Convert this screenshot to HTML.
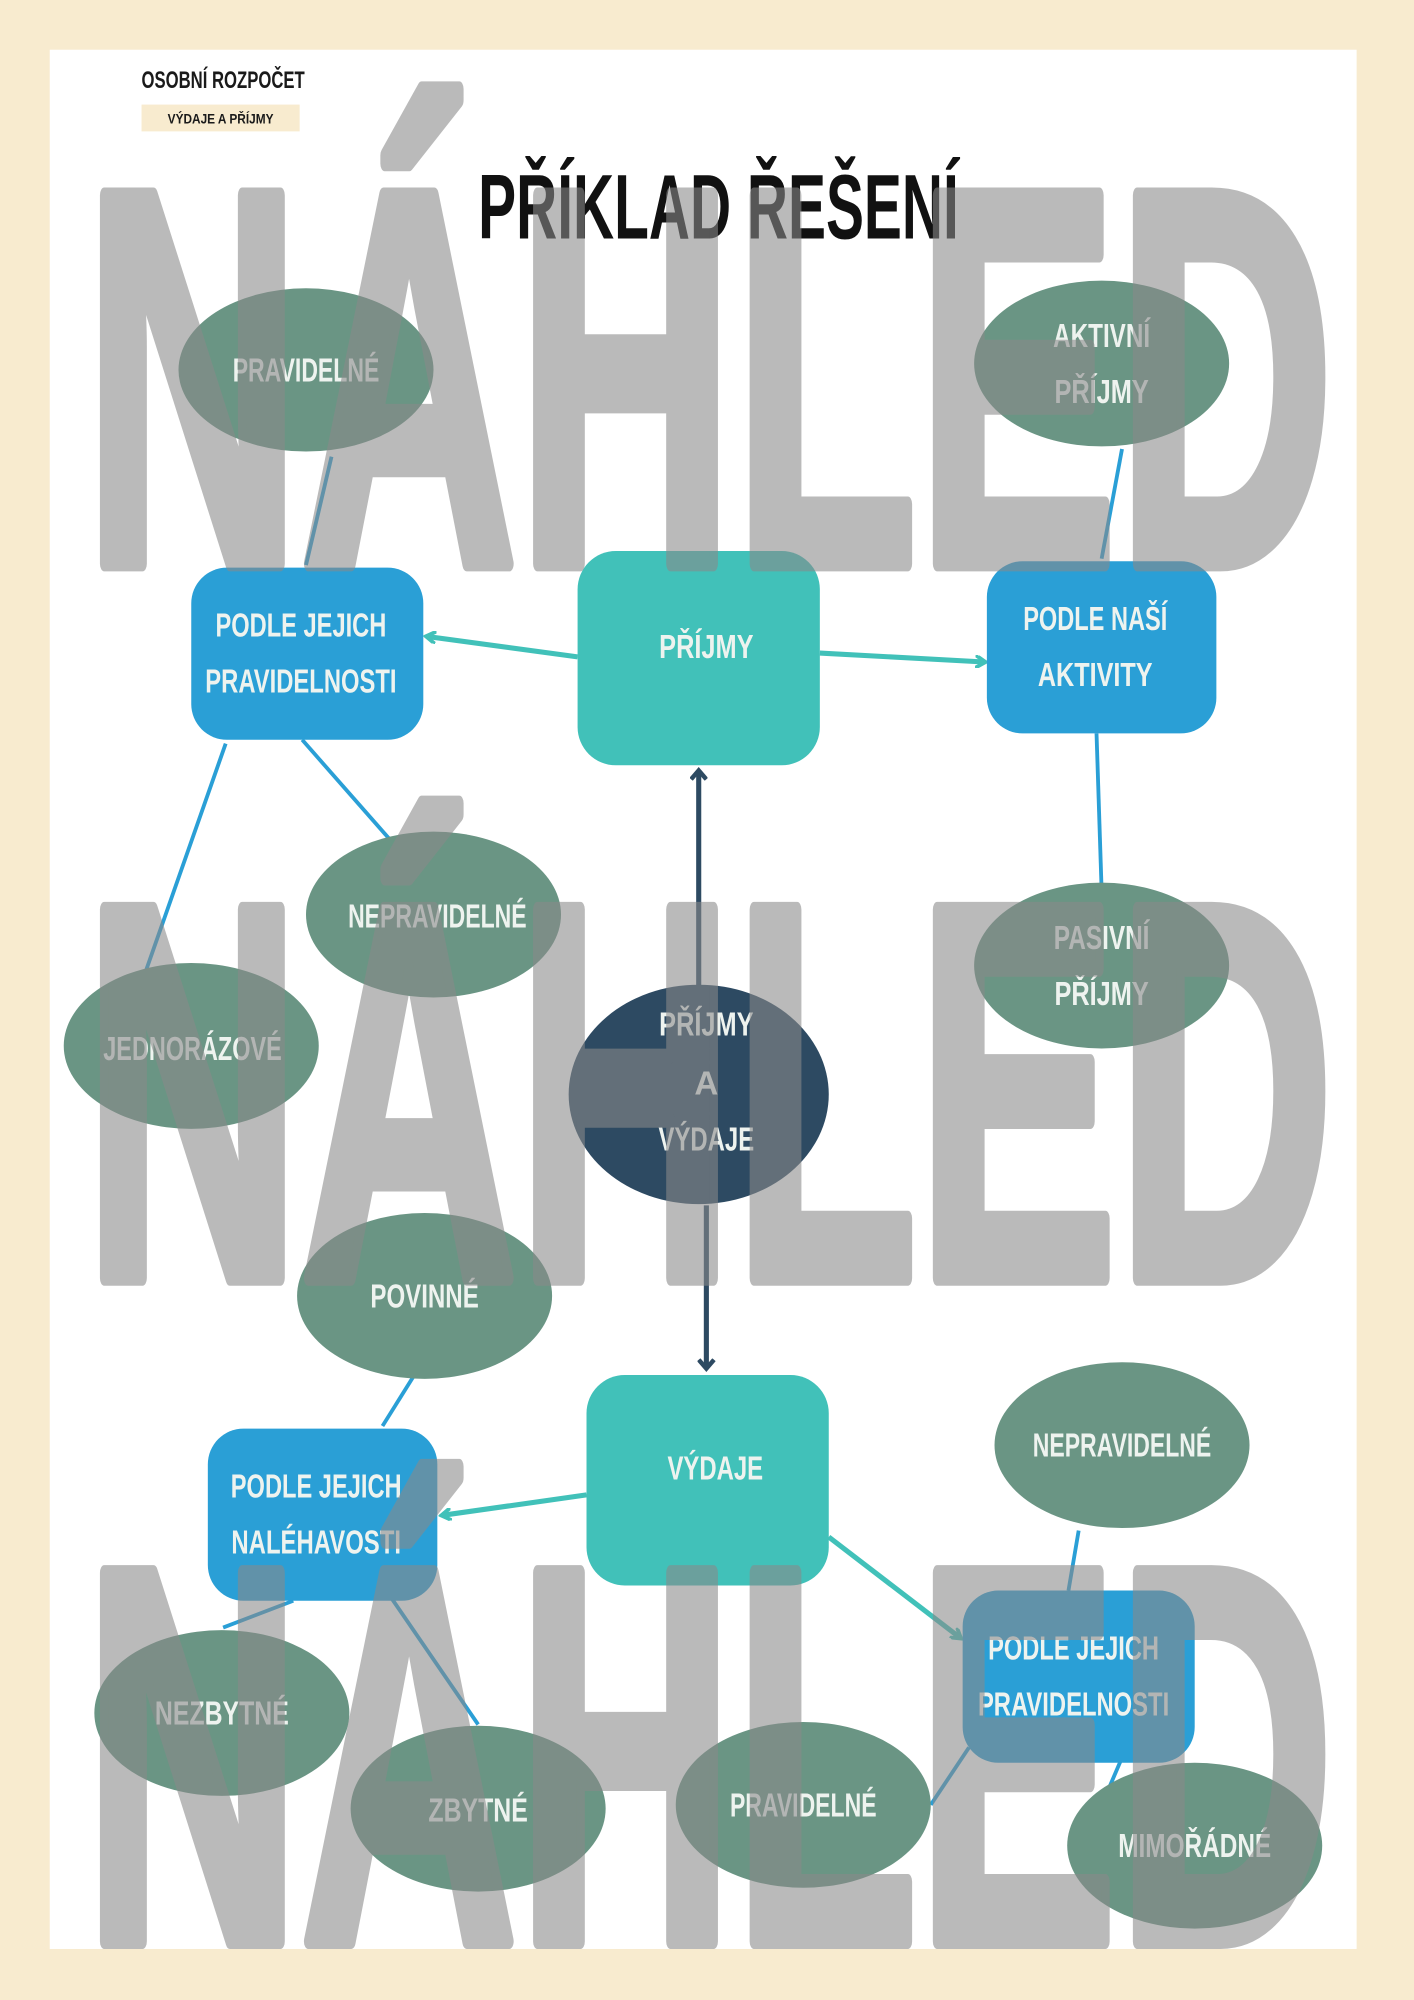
<!DOCTYPE html>
<html><head><meta charset="utf-8"><style>
html,body{margin:0;padding:0;background:#f8ebcf;}
svg{display:block}
text{font-family:"Liberation Sans Narrow","Liberation Sans",sans-serif;font-weight:bold;}
</style></head><body>
<svg width="1414" height="2000" viewBox="0 0 1109 1568" preserveAspectRatio="none" xmlns="http://www.w3.org/2000/svg">
<defs>
<marker id="at" markerWidth="10" markerHeight="10" refX="7" refY="5" orient="auto" markerUnits="userSpaceOnUse"><path d="M0,0 L8,5 L0,10" fill="none" stroke="#41c1b9" stroke-width="3"/></marker>
<marker id="ad" markerWidth="14" markerHeight="14" refX="7" refY="7" orient="auto" markerUnits="userSpaceOnUse"><path d="M1,1 L8,7 L1,13" fill="none" stroke="#2d4a62" stroke-width="3.5"/></marker>
</defs>
<rect x="0" y="0" width="1109" height="1568" fill="#f8ebcf"/>
<rect x="39" y="39" width="1025" height="1489" fill="#fff"/>
<text x="111" y="69" font-size="19" fill="#1a1a1a" textLength="128" lengthAdjust="spacingAndGlyphs">OSOBNÍ ROZPOČET</text>
<rect x="111" y="82" width="124" height="21" fill="#f8ebcf"/>
<text x="173" y="97" font-size="11" fill="#1a1a1a" text-anchor="middle" textLength="83" lengthAdjust="spacingAndGlyphs">VÝDAJE A PŘÍJMY</text>
<text x="375" y="187" font-size="72" fill="#111" textLength="377" lengthAdjust="spacingAndGlyphs">PŘÍKLAD ŘEŠENÍ</text>

<g stroke-width="3" fill="none">
<line x1="260" y1="358" x2="240" y2="443" stroke="#2a9fd6"/>
<line x1="880" y1="352" x2="864" y2="438" stroke="#2a9fd6"/>
<line x1="860" y1="575" x2="864" y2="698" stroke="#2a9fd6"/>
<line x1="237" y1="580" x2="310" y2="663" stroke="#2a9fd6"/>
<line x1="177" y1="583" x2="112" y2="768" stroke="#2a9fd6"/>
<line x1="325" y1="1078" x2="300" y2="1118" stroke="#2a9fd6"/>
<line x1="846" y1="1200" x2="838" y2="1247" stroke="#2a9fd6"/>
<line x1="175" y1="1276" x2="230" y2="1255" stroke="#2a9fd6"/>
<line x1="305" y1="1250" x2="375" y2="1352" stroke="#2a9fd6"/>
<line x1="730" y1="1415" x2="760" y2="1370" stroke="#2a9fd6"/>
<line x1="880" y1="1378" x2="865" y2="1413" stroke="#2a9fd6"/>
<line x1="453" y1="515" x2="335" y2="499" stroke="#41c1b9" stroke-width="4" marker-end="url(#at)"/>
<line x1="643" y1="512" x2="772" y2="519" stroke="#41c1b9" stroke-width="4" marker-end="url(#at)"/>
<line x1="460" y1="1172" x2="347" y2="1188" stroke="#41c1b9" stroke-width="4" marker-end="url(#at)"/>
<line x1="650" y1="1205" x2="753" y2="1284" stroke="#41c1b9" stroke-width="4" marker-end="url(#at)"/>
<line x1="548" y1="775" x2="548" y2="605" stroke="#2d4a62" stroke-width="4" marker-end="url(#ad)"/>
<line x1="554" y1="945" x2="554" y2="1072" stroke="#2d4a62" stroke-width="4" marker-end="url(#ad)"/>
</g>

<g fill="#6a9584">
<ellipse cx="240" cy="290" rx="100" ry="64"/>
<ellipse cx="864" cy="285" rx="100" ry="65"/>
<ellipse cx="340" cy="717" rx="100" ry="65"/>
<ellipse cx="864" cy="757" rx="100" ry="65"/>
<ellipse cx="150" cy="820" rx="100" ry="65"/>
<ellipse cx="333" cy="1016" rx="100" ry="65"/>
<ellipse cx="880" cy="1133" rx="100" ry="65"/>
<ellipse cx="174" cy="1343" rx="100" ry="65"/>
<ellipse cx="375" cy="1418" rx="100" ry="65"/>
<ellipse cx="630" cy="1415" rx="100" ry="65"/>
<ellipse cx="937" cy="1447" rx="100" ry="65"/>
</g>
<ellipse cx="548" cy="858" rx="102" ry="86" fill="#2d4a62"/>
<g fill="#2a9fd6">
<rect x="150" y="445" width="182" height="135" rx="28"/>
<rect x="774" y="440" width="180" height="135" rx="28"/>
<rect x="163" y="1120" width="180" height="135" rx="28"/>
<rect x="755" y="1247" width="182" height="135" rx="28"/>
</g>
<g fill="#41c1b9">
<rect x="453" y="432" width="190" height="168" rx="30"/>
<rect x="460" y="1078" width="190" height="165" rx="30"/>
</g>

<g font-size="26" fill="#eef3ef" text-anchor="middle">
<text x="240" y="299" textLength="115" lengthAdjust="spacingAndGlyphs">PRAVIDELNÉ</text>
<text x="864" y="272" textLength="76" lengthAdjust="spacingAndGlyphs">AKTIVNÍ</text><text x="864" y="316" textLength="74" lengthAdjust="spacingAndGlyphs">PŘÍJMY</text>
<text x="236" y="499" textLength="134" lengthAdjust="spacingAndGlyphs">PODLE JEJICH</text><text x="236" y="543" textLength="150" lengthAdjust="spacingAndGlyphs">PRAVIDELNOSTI</text>
<text x="554" y="516" textLength="74" lengthAdjust="spacingAndGlyphs">PŘÍJMY</text>
<text x="859" y="494" textLength="113" lengthAdjust="spacingAndGlyphs">PODLE NAŠÍ</text><text x="859" y="538" textLength="90" lengthAdjust="spacingAndGlyphs">AKTIVITY</text>
<text x="343" y="727" textLength="140" lengthAdjust="spacingAndGlyphs">NEPRAVIDELNÉ</text>
<text x="864" y="744" textLength="75" lengthAdjust="spacingAndGlyphs">PASIVNÍ</text><text x="864" y="788" textLength="74" lengthAdjust="spacingAndGlyphs">PŘÍJMY</text>
<text x="151" y="831" textLength="140" lengthAdjust="spacingAndGlyphs">JEDNORÁZOVÉ</text>
<text x="554" y="812" textLength="74" lengthAdjust="spacingAndGlyphs">PŘÍJMY</text><text x="554" y="858">A</text><text x="554" y="902" textLength="75" lengthAdjust="spacingAndGlyphs">VÝDAJE</text>
<text x="333" y="1025" textLength="85" lengthAdjust="spacingAndGlyphs">POVINNÉ</text>
<text x="561" y="1160" textLength="75" lengthAdjust="spacingAndGlyphs">VÝDAJE</text>
<text x="248" y="1174" textLength="134" lengthAdjust="spacingAndGlyphs">PODLE JEJICH</text><text x="248" y="1218" textLength="133" lengthAdjust="spacingAndGlyphs">NALÉHAVOSTI</text>
<text x="880" y="1142" textLength="140" lengthAdjust="spacingAndGlyphs">NEPRAVIDELNÉ</text>
<text x="842" y="1301" textLength="134" lengthAdjust="spacingAndGlyphs">PODLE JEJICH</text><text x="842" y="1345" textLength="150" lengthAdjust="spacingAndGlyphs">PRAVIDELNOSTI</text>
<text x="174" y="1352" textLength="105" lengthAdjust="spacingAndGlyphs">NEZBYTNÉ</text>
<text x="375" y="1428" textLength="78" lengthAdjust="spacingAndGlyphs">ZBYTNÉ</text>
<text x="630" y="1424" textLength="115" lengthAdjust="spacingAndGlyphs">PRAVIDELNÉ</text>
<text x="937" y="1456" textLength="120" lengthAdjust="spacingAndGlyphs">MIMOŘÁDNÉ</text>
</g>

<g opacity="0.58">
<g fill="#8a8a8a" stroke="#8a8a8a" stroke-width="12" stroke-linejoin="round" font-size="420">
<text x="66" y="442" textLength="980" lengthAdjust="spacingAndGlyphs">NÁHLED</text>
<text x="66" y="1002" textLength="980" lengthAdjust="spacingAndGlyphs">NÁHLED</text>
<text x="66" y="1522" textLength="980" lengthAdjust="spacingAndGlyphs">NÁHLED</text>
</g>
</g>
</svg>
</body></html>
